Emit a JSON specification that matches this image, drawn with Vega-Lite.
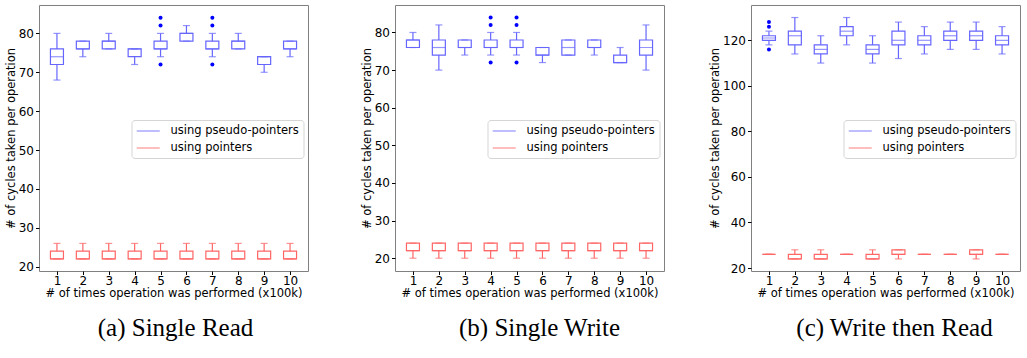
{
  "$schema": "https://vega.github.io/schema/vega-lite/v6.json",
  "padding": {"left": 4, "top": 4, "right": 5, "bottom": 0},
  "bounds": "flush",
  "spacing": 87,
  "background": "white",
  "config": {
    "view": {"stroke": "#808080", "strokeWidth": 1},
    "axis": {"labelFont": "DejaVu Sans", "labelFontSize": 12, "labelOverlap": false, "titleFont": "DejaVu Sans", "titleFontSize": 11.5, "titleFontWeight": "normal", "labelColor": "black", "titleColor": "black", "tickColor": "black", "tickSize": 3.5, "domain": false, "grid": false, "labelPadding": 2, "titlePadding": 2},
    "legend": {"title": null, "orient": "none", "legendX": 92.5, "legendY": 115, "symbolType": "M-1,0H3", "symbolSize": 132, "symbolStrokeWidth": 1.2, "labelFontSize": 11.5, "labelFont": "DejaVu Sans", "labelColor": "black", "labelOffset": 21.5, "padding": 4.5, "rowPadding": 5, "strokeColor": "#d5d5d5", "fillColor": "white", "cornerRadius": 3},
    "title": {"font": "Liberation Serif", "fontSize": 25, "fontWeight": "normal", "color": "black"}
  },
  "datasets": {
    "boxes": [
      {"panel":"a","series":"using pseudo-pointers","x":1,"lo":68,"q1":72,"med":74,"q3":76,"hi":80},
      {"panel":"a","series":"using pseudo-pointers","x":2,"lo":74,"q1":76,"med":76,"q3":78,"hi":78},
      {"panel":"a","series":"using pseudo-pointers","x":3,"lo":76,"q1":76,"med":78,"q3":78,"hi":80},
      {"panel":"a","series":"using pseudo-pointers","x":4,"lo":72,"q1":74,"med":76,"q3":76,"hi":76},
      {"panel":"a","series":"using pseudo-pointers","x":5,"lo":74,"q1":76,"med":76,"q3":78,"hi":80},
      {"panel":"a","series":"using pseudo-pointers","x":6,"lo":78,"q1":78,"med":80,"q3":80,"hi":82},
      {"panel":"a","series":"using pseudo-pointers","x":7,"lo":74,"q1":76,"med":76,"q3":78,"hi":80},
      {"panel":"a","series":"using pseudo-pointers","x":8,"lo":76,"q1":76,"med":78,"q3":78,"hi":80},
      {"panel":"a","series":"using pseudo-pointers","x":9,"lo":70,"q1":72,"med":74,"q3":74,"hi":74},
      {"panel":"a","series":"using pseudo-pointers","x":10,"lo":74,"q1":76,"med":76,"q3":78,"hi":78},
      {"panel":"a","series":"using pointers","x":1,"lo":22,"q1":22,"med":22,"q3":24,"hi":26},
      {"panel":"a","series":"using pointers","x":2,"lo":22,"q1":22,"med":22,"q3":24,"hi":26},
      {"panel":"a","series":"using pointers","x":3,"lo":22,"q1":22,"med":22,"q3":24,"hi":26},
      {"panel":"a","series":"using pointers","x":4,"lo":22,"q1":22,"med":22,"q3":24,"hi":26},
      {"panel":"a","series":"using pointers","x":5,"lo":22,"q1":22,"med":22,"q3":24,"hi":26},
      {"panel":"a","series":"using pointers","x":6,"lo":22,"q1":22,"med":22,"q3":24,"hi":26},
      {"panel":"a","series":"using pointers","x":7,"lo":22,"q1":22,"med":22,"q3":24,"hi":26},
      {"panel":"a","series":"using pointers","x":8,"lo":22,"q1":22,"med":22,"q3":24,"hi":26},
      {"panel":"a","series":"using pointers","x":9,"lo":22,"q1":22,"med":22,"q3":24,"hi":26},
      {"panel":"a","series":"using pointers","x":10,"lo":22,"q1":22,"med":22,"q3":24,"hi":26},
      {"panel":"b","series":"using pseudo-pointers","x":1,"lo":76,"q1":76,"med":78,"q3":78,"hi":80},
      {"panel":"b","series":"using pseudo-pointers","x":2,"lo":70,"q1":74,"med":76,"q3":78,"hi":82},
      {"panel":"b","series":"using pseudo-pointers","x":3,"lo":74,"q1":76,"med":76,"q3":78,"hi":78},
      {"panel":"b","series":"using pseudo-pointers","x":4,"lo":74,"q1":76,"med":76,"q3":78,"hi":80},
      {"panel":"b","series":"using pseudo-pointers","x":5,"lo":74,"q1":76,"med":76,"q3":78,"hi":80},
      {"panel":"b","series":"using pseudo-pointers","x":6,"lo":72,"q1":74,"med":74,"q3":76,"hi":76},
      {"panel":"b","series":"using pseudo-pointers","x":7,"lo":74,"q1":74,"med":76,"q3":78,"hi":78},
      {"panel":"b","series":"using pseudo-pointers","x":8,"lo":74,"q1":76,"med":76,"q3":78,"hi":78},
      {"panel":"b","series":"using pseudo-pointers","x":9,"lo":72,"q1":72,"med":72,"q3":74,"hi":76},
      {"panel":"b","series":"using pseudo-pointers","x":10,"lo":70,"q1":74,"med":76,"q3":78,"hi":82},
      {"panel":"b","series":"using pointers","x":1,"lo":20,"q1":22,"med":22,"q3":24,"hi":24},
      {"panel":"b","series":"using pointers","x":2,"lo":20,"q1":22,"med":22,"q3":24,"hi":24},
      {"panel":"b","series":"using pointers","x":3,"lo":20,"q1":22,"med":22,"q3":24,"hi":24},
      {"panel":"b","series":"using pointers","x":4,"lo":20,"q1":22,"med":22,"q3":24,"hi":24},
      {"panel":"b","series":"using pointers","x":5,"lo":20,"q1":22,"med":22,"q3":24,"hi":24},
      {"panel":"b","series":"using pointers","x":6,"lo":20,"q1":22,"med":22,"q3":24,"hi":24},
      {"panel":"b","series":"using pointers","x":7,"lo":20,"q1":22,"med":22,"q3":24,"hi":24},
      {"panel":"b","series":"using pointers","x":8,"lo":20,"q1":22,"med":22,"q3":24,"hi":24},
      {"panel":"b","series":"using pointers","x":9,"lo":20,"q1":22,"med":22,"q3":24,"hi":24},
      {"panel":"b","series":"using pointers","x":10,"lo":20,"q1":22,"med":22,"q3":24,"hi":24},
      {"panel":"c","series":"using pseudo-pointers","x":1,"lo":118,"q1":120,"med":121,"q3":122,"hi":124},
      {"panel":"c","series":"using pseudo-pointers","x":2,"lo":114,"q1":118,"med":122,"q3":124,"hi":130},
      {"panel":"c","series":"using pseudo-pointers","x":3,"lo":110,"q1":114,"med":116,"q3":118,"hi":122},
      {"panel":"c","series":"using pseudo-pointers","x":4,"lo":118,"q1":122,"med":124,"q3":126,"hi":130},
      {"panel":"c","series":"using pseudo-pointers","x":5,"lo":110,"q1":114,"med":116,"q3":118,"hi":122},
      {"panel":"c","series":"using pseudo-pointers","x":6,"lo":112,"q1":118,"med":120,"q3":124,"hi":128},
      {"panel":"c","series":"using pseudo-pointers","x":7,"lo":114,"q1":118,"med":120,"q3":122,"hi":126},
      {"panel":"c","series":"using pseudo-pointers","x":8,"lo":116,"q1":120,"med":122,"q3":124,"hi":128},
      {"panel":"c","series":"using pseudo-pointers","x":9,"lo":116,"q1":120,"med":122,"q3":124,"hi":128},
      {"panel":"c","series":"using pseudo-pointers","x":10,"lo":114,"q1":118,"med":120,"q3":122,"hi":126},
      {"panel":"c","series":"using pointers","x":1,"lo":26,"q1":26,"med":26,"q3":26,"hi":26},
      {"panel":"c","series":"using pointers","x":2,"lo":24,"q1":24,"med":24,"q3":26,"hi":28},
      {"panel":"c","series":"using pointers","x":3,"lo":24,"q1":24,"med":24,"q3":26,"hi":28},
      {"panel":"c","series":"using pointers","x":4,"lo":26,"q1":26,"med":26,"q3":26,"hi":26},
      {"panel":"c","series":"using pointers","x":5,"lo":24,"q1":24,"med":24,"q3":26,"hi":28},
      {"panel":"c","series":"using pointers","x":6,"lo":24,"q1":26,"med":26,"q3":28,"hi":28},
      {"panel":"c","series":"using pointers","x":7,"lo":26,"q1":26,"med":26,"q3":26,"hi":26},
      {"panel":"c","series":"using pointers","x":8,"lo":26,"q1":26,"med":26,"q3":26,"hi":26},
      {"panel":"c","series":"using pointers","x":9,"lo":24,"q1":26,"med":26,"q3":28,"hi":28},
      {"panel":"c","series":"using pointers","x":10,"lo":26,"q1":26,"med":26,"q3":26,"hi":26}
    ],
    "outliers": [
      {"panel":"a","x":5,"y":72},{"panel":"a","x":5,"y":82},{"panel":"a","x":5,"y":84},
      {"panel":"a","x":7,"y":72},{"panel":"a","x":7,"y":82},{"panel":"a","x":7,"y":84},
      {"panel":"b","x":4,"y":72},{"panel":"b","x":4,"y":82},{"panel":"b","x":4,"y":84},
      {"panel":"b","x":5,"y":72},{"panel":"b","x":5,"y":82},{"panel":"b","x":5,"y":84},
      {"panel":"c","x":1,"y":116},{"panel":"c","x":1,"y":126},{"panel":"c","x":1,"y":128}
    ]
  },
  "resolve": {"scale": {"y": "independent", "color": "independent"}, "legend": {"color": "independent"}},
  "hconcat": [
    {
      "width": 269, "height": 266,
      "title": {"text": "(a) Single Read", "orient": "bottom", "frame": "group", "dx": 2, "offset": 17},
      "layer": [
        {"data": {"name": "boxes"}, "transform": [{"filter": "datum.panel == 'a'"}],
         "mark": {"type": "rule", "strokeWidth": 1.2},
         "encoding": {
           "x": {"field": "x", "type": "quantitative", "scale": {"domain": [0.5, 10.5], "nice": false, "zero": false}, "axis": {"values": [1,2,3,4,5,6,7,8,9,10], "labelOverlap": false, "tickCount": 10, "format": "d", "labelPadding": 1, "titlePadding": 1}, "title": "# of times operation was performed (x100k)"},
           "y": {"field": "lo", "type": "quantitative", "scale": {"domain": [18.9, 87.3], "nice": false, "zero": false}, "axis": {"values": [20,30,40,50,60,70,80], "labelOverlap": false}, "title": "# of cycles taken per operation"},
           "y2": {"field": "q1"},
           "color": {"field": "series", "type": "nominal", "scale": {"domain": ["using pseudo-pointers", "using pointers"], "range": ["#6666ff", "#ff6666"]}, "legend": {}}
         }},
        {"data": {"name": "boxes"}, "transform": [{"filter": "datum.panel == 'a'"}],
         "mark": {"type": "rule", "strokeWidth": 1.2},
         "encoding": {
           "x": {"field": "x", "type": "quantitative"},
           "y": {"field": "q3", "type": "quantitative", "title": "# of cycles taken per operation"},
           "y2": {"field": "hi"},
           "color": {"field": "series", "type": "nominal"}
         }},
        {"data": {"name": "boxes"}, "transform": [{"filter": "datum.panel == 'a'"}],
         "mark": {"type": "tick", "orient": "horizontal", "size": 7, "thickness": 1.2},
         "encoding": {
           "x": {"field": "x", "type": "quantitative"},
           "y": {"field": "lo", "type": "quantitative", "title": "# of cycles taken per operation"},
           "color": {"field": "series", "type": "nominal"}
         }},
        {"data": {"name": "boxes"}, "transform": [{"filter": "datum.panel == 'a'"}],
         "mark": {"type": "tick", "orient": "horizontal", "size": 7, "thickness": 1.2},
         "encoding": {
           "x": {"field": "x", "type": "quantitative"},
           "y": {"field": "hi", "type": "quantitative", "title": "# of cycles taken per operation"},
           "color": {"field": "series", "type": "nominal"}
         }},
        {"data": {"name": "boxes"}, "transform": [{"filter": "datum.panel == 'a'"}],
         "mark": {"type": "bar", "filled": false, "size": 13, "strokeWidth": 1.2},
         "encoding": {
           "x": {"field": "x", "type": "quantitative"},
           "y": {"field": "q1", "type": "quantitative", "title": "# of cycles taken per operation"},
           "y2": {"field": "q3"},
           "color": {"field": "series", "type": "nominal"}
         }},
        {"data": {"name": "boxes"}, "transform": [{"filter": "datum.panel == 'a'"}],
         "mark": {"type": "tick", "orient": "horizontal", "size": 13, "thickness": 1.2},
         "encoding": {
           "x": {"field": "x", "type": "quantitative"},
           "y": {"field": "med", "type": "quantitative", "title": "# of cycles taken per operation"},
           "color": {"field": "series", "type": "nominal"}
         }},
        {"data": {"name": "outliers"}, "transform": [{"filter": "datum.panel == 'a'"}],
         "mark": {"type": "circle", "size": 16, "color": "#0000ff", "opacity": 1},
         "encoding": {
           "x": {"field": "x", "type": "quantitative"},
           "y": {"field": "y", "type": "quantitative", "title": "# of cycles taken per operation"}
         }}
      ]
    },
    {
      "width": 269, "height": 266,
      "title": {"text": "(b) Single Write", "orient": "bottom", "frame": "group", "dx": 10, "offset": 17},
      "layer": [
        {"data": {"name": "boxes"}, "transform": [{"filter": "datum.panel == 'b'"}],
         "mark": {"type": "rule", "strokeWidth": 1.2},
         "encoding": {
           "x": {"field": "x", "type": "quantitative", "scale": {"domain": [0.5, 10.5], "nice": false, "zero": false}, "axis": {"values": [1,2,3,4,5,6,7,8,9,10], "labelOverlap": false, "tickCount": 10, "format": "d", "labelPadding": 1, "titlePadding": 1}, "title": "# of times operation was performed (x100k)"},
           "y": {"field": "lo", "type": "quantitative", "scale": {"domain": [16.6, 87.3], "nice": false, "zero": false}, "axis": {"values": [20,30,40,50,60,70,80], "labelOverlap": false}, "title": "# of cycles taken per operation"},
           "y2": {"field": "q1"},
           "color": {"field": "series", "type": "nominal", "scale": {"domain": ["using pseudo-pointers", "using pointers"], "range": ["#6666ff", "#ff6666"]}, "legend": {}}
         }},
        {"data": {"name": "boxes"}, "transform": [{"filter": "datum.panel == 'b'"}],
         "mark": {"type": "rule", "strokeWidth": 1.2},
         "encoding": {
           "x": {"field": "x", "type": "quantitative"},
           "y": {"field": "q3", "type": "quantitative", "title": "# of cycles taken per operation"},
           "y2": {"field": "hi"},
           "color": {"field": "series", "type": "nominal"}
         }},
        {"data": {"name": "boxes"}, "transform": [{"filter": "datum.panel == 'b'"}],
         "mark": {"type": "tick", "orient": "horizontal", "size": 7, "thickness": 1.2},
         "encoding": {
           "x": {"field": "x", "type": "quantitative"},
           "y": {"field": "lo", "type": "quantitative", "title": "# of cycles taken per operation"},
           "color": {"field": "series", "type": "nominal"}
         }},
        {"data": {"name": "boxes"}, "transform": [{"filter": "datum.panel == 'b'"}],
         "mark": {"type": "tick", "orient": "horizontal", "size": 7, "thickness": 1.2},
         "encoding": {
           "x": {"field": "x", "type": "quantitative"},
           "y": {"field": "hi", "type": "quantitative", "title": "# of cycles taken per operation"},
           "color": {"field": "series", "type": "nominal"}
         }},
        {"data": {"name": "boxes"}, "transform": [{"filter": "datum.panel == 'b'"}],
         "mark": {"type": "bar", "filled": false, "size": 13, "strokeWidth": 1.2},
         "encoding": {
           "x": {"field": "x", "type": "quantitative"},
           "y": {"field": "q1", "type": "quantitative", "title": "# of cycles taken per operation"},
           "y2": {"field": "q3"},
           "color": {"field": "series", "type": "nominal"}
         }},
        {"data": {"name": "boxes"}, "transform": [{"filter": "datum.panel == 'b'"}],
         "mark": {"type": "tick", "orient": "horizontal", "size": 13, "thickness": 1.2},
         "encoding": {
           "x": {"field": "x", "type": "quantitative"},
           "y": {"field": "med", "type": "quantitative", "title": "# of cycles taken per operation"},
           "color": {"field": "series", "type": "nominal"}
         }},
        {"data": {"name": "outliers"}, "transform": [{"filter": "datum.panel == 'b'"}],
         "mark": {"type": "circle", "size": 16, "color": "#0000ff", "opacity": 1},
         "encoding": {
           "x": {"field": "x", "type": "quantitative"},
           "y": {"field": "y", "type": "quantitative", "title": "# of cycles taken per operation"}
         }}
      ]
    },
    {
      "width": 269, "height": 266,
      "title": {"text": "(c) Write then Read", "orient": "bottom", "frame": "group", "dx": 9, "offset": 17},
      "layer": [
        {"data": {"name": "boxes"}, "transform": [{"filter": "datum.panel == 'c'"}],
         "mark": {"type": "rule", "strokeWidth": 1.2},
         "encoding": {
           "x": {"field": "x", "type": "quantitative", "scale": {"domain": [0.5, 10.5], "nice": false, "zero": false}, "axis": {"values": [1,2,3,4,5,6,7,8,9,10], "labelOverlap": false, "tickCount": 10, "format": "d", "labelPadding": 1, "titlePadding": 1}, "title": "# of times operation was performed (x100k)"},
           "y": {"field": "lo", "type": "quantitative", "scale": {"domain": [18.7, 135.5], "nice": false, "zero": false}, "axis": {"values": [20,40,60,80,100,120], "labelOverlap": false}, "title": "# of cycles taken per operation"},
           "y2": {"field": "q1"},
           "color": {"field": "series", "type": "nominal", "scale": {"domain": ["using pseudo-pointers", "using pointers"], "range": ["#6666ff", "#ff6666"]}, "legend": {}}
         }},
        {"data": {"name": "boxes"}, "transform": [{"filter": "datum.panel == 'c'"}],
         "mark": {"type": "rule", "strokeWidth": 1.2},
         "encoding": {
           "x": {"field": "x", "type": "quantitative"},
           "y": {"field": "q3", "type": "quantitative", "title": "# of cycles taken per operation"},
           "y2": {"field": "hi"},
           "color": {"field": "series", "type": "nominal"}
         }},
        {"data": {"name": "boxes"}, "transform": [{"filter": "datum.panel == 'c'"}],
         "mark": {"type": "tick", "orient": "horizontal", "size": 7, "thickness": 1.2},
         "encoding": {
           "x": {"field": "x", "type": "quantitative"},
           "y": {"field": "lo", "type": "quantitative", "title": "# of cycles taken per operation"},
           "color": {"field": "series", "type": "nominal"}
         }},
        {"data": {"name": "boxes"}, "transform": [{"filter": "datum.panel == 'c'"}],
         "mark": {"type": "tick", "orient": "horizontal", "size": 7, "thickness": 1.2},
         "encoding": {
           "x": {"field": "x", "type": "quantitative"},
           "y": {"field": "hi", "type": "quantitative", "title": "# of cycles taken per operation"},
           "color": {"field": "series", "type": "nominal"}
         }},
        {"data": {"name": "boxes"}, "transform": [{"filter": "datum.panel == 'c'"}],
         "mark": {"type": "bar", "filled": false, "size": 13, "strokeWidth": 1.2},
         "encoding": {
           "x": {"field": "x", "type": "quantitative"},
           "y": {"field": "q1", "type": "quantitative", "title": "# of cycles taken per operation"},
           "y2": {"field": "q3"},
           "color": {"field": "series", "type": "nominal"}
         }},
        {"data": {"name": "boxes"}, "transform": [{"filter": "datum.panel == 'c'"}],
         "mark": {"type": "tick", "orient": "horizontal", "size": 13, "thickness": 1.2},
         "encoding": {
           "x": {"field": "x", "type": "quantitative"},
           "y": {"field": "med", "type": "quantitative", "title": "# of cycles taken per operation"},
           "color": {"field": "series", "type": "nominal"}
         }},
        {"data": {"name": "outliers"}, "transform": [{"filter": "datum.panel == 'c'"}],
         "mark": {"type": "circle", "size": 16, "color": "#0000ff", "opacity": 1},
         "encoding": {
           "x": {"field": "x", "type": "quantitative"},
           "y": {"field": "y", "type": "quantitative", "title": "# of cycles taken per operation"}
         }}
      ]
    }
  ]
}
